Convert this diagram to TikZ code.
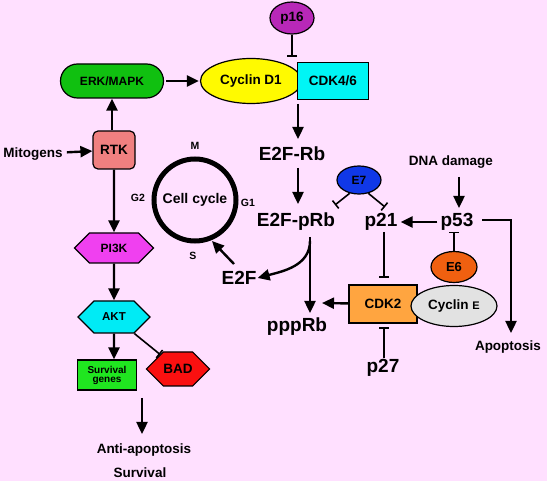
\documentclass[tikz,border=0pt]{standalone}
\usepackage{fontspec}
\setmainfont{Liberation Sans}
\usetikzlibrary{arrows.meta,shapes.geometric,shapes.symbols}
\definecolor{bg}{RGB}{255,224,255}
\definecolor{ergreen}{RGB}{16,192,16}
\definecolor{svgreen}{RGB}{32,230,32}
\definecolor{cyyel}{RGB}{255,250,0}
\definecolor{cdkcyan}{RGB}{0,245,245}
\definecolor{ppurple}{RGB}{184,40,184}
\definecolor{rtkred}{RGB}{240,128,128}
\definecolor{pimag}{RGB}{240,64,240}
\definecolor{aktcyan}{RGB}{0,235,245}
\definecolor{badred}{RGB}{250,16,16}
\definecolor{eblue}{RGB}{16,56,232}
\definecolor{eorange}{RGB}{240,96,16}
\definecolor{cdkorange}{RGB}{255,165,64}
\definecolor{cegray}{RGB}{226,226,226}
\newcommand{\fsz}[1]{\fontsize{#1}{#1}\selectfont}
\tikzset{
  arr/.style={-{Triangle[length=12pt,width=11pt]}, line width=2.4pt},
  inh/.style={-{Bar[width=10pt,line width=1.6pt]}, line width=1.6pt},
  shp/.style={draw, line width=1.2pt, inner sep=0pt, font=\bfseries\fsz{13.5}},
  big/.style={inner sep=1pt, font=\bfseries\fsz{19}},
  mid/.style={inner sep=1pt, font=\bfseries\fsz{13.5}},
  sml/.style={inner sep=1pt, font=\bfseries\fsz{10.5}},
  hexa/.style={shp, signal, signal to=west and east, signal pointer angle=90}
}
\begin{document}
\begin{tikzpicture}[x=1pt,y=-1pt]
\useasboundingbox (0,0) rectangle (547,481);
\fill[bg] (0,0) rectangle (547,481);
% top row
\node[shp, ellipse, fill=ppurple, minimum width=44pt, minimum height=32pt] (p16) at (292,18) {p16};
\node[shp, rounded corners=17pt, fill=ergreen, minimum width=103pt, minimum height=34pt, font=\bfseries\fsz{12}] (erk) at (112,81) {ERK/MAPK};
\node[shp, ellipse, fill=cyyel, minimum width=101pt, minimum height=45pt] (cycd) at (251,81) {Cyclin D1};
\node[shp, fill=cdkcyan, minimum width=71pt, minimum height=37pt] (cdk46) at (333,81) {CDK4/6};
\coordinate (p16end) at (292,57);
\draw[inh] (p16) -- (p16end);
\draw[arr, shorten <=2pt, shorten >=1pt] (erk) -- (cycd);
% left column
\node[mid] (mito) at (33,154) {Mitogens};
\node[shp, rounded corners=5pt, fill=rtkred, minimum width=42pt, minimum height=38pt] (rtk) at (114,150) {RTK};
\node[hexa, fill=pimag, minimum width=79pt, minimum height=30pt, font=\bfseries\fsz{12}] (pi3k) at (114,248) {PI3K};
\node[hexa, fill=aktcyan, minimum width=72pt, minimum height=32pt, font=\bfseries\fsz{11.5}] (akt) at (114,317) {AKT};
\node[shp, fill=svgreen, minimum width=59pt, minimum height=30pt, align=center, font=\bfseries\fsz{10}] (surv) at (107,375) {Survival\\[-1pt]genes};
\node[hexa, fill=badred, minimum width=59pt, minimum height=34pt] (bad) at (178,369) {BAD};
\node[mid] (anti) at (144,450) {Anti-apoptosis};
\node[mid] (survl) at (140,473) {Survival};
\draw[arr, shorten <=3pt] (mito) -- (rtk);
\draw[arr] (rtk.north -| erk) -- (erk.south);
\draw[arr] (rtk) -- (pi3k);
\draw[arr] (pi3k) -- (akt);
\draw[arr] (akt) -- (akt |- surv.north);
\draw[inh] (akt) -- (bad);
\coordinate (astart) at (142,398);
\coordinate (aend) at (142,434);
\draw[arr] (astart) -- (aend);
% cell cycle
\node[circle, draw, line width=5pt, minimum size=82pt, inner sep=0pt, font=\bfseries\fsz{14}] (cc) at (195,200) {Cell cycle};
\node[sml] (mlab) at (195,146) {M};
\node[sml] (g2lab) at (138,198) {G2};
\node[sml] (g1lab) at (248,203) {G1};
\node[sml] (slab) at (193,256) {S};
\node[big] (e2f) at (239,278) {E2F};
\coordinate (e2fs) at (234,264);
\coordinate (e2ft) at (212,241);
\draw[arr] (e2fs) -- (e2ft);
% Rb column
\node[big] (e2frb) at (292,154) {E2F-Rb};
\node[big] (e2fprb) at (296,222) {E2F-pRb};
\node[big] (ppprb) at (297,327) {pppRb};
\coordinate (cdkout) at (298,104);
\coordinate (cdkend) at (298,139);
\draw[arr] (cdkout) -- (cdkend);
\coordinate (rbs) at (298,168);
\coordinate (rbe) at (298,204);
\draw[arr] (rbs) -- (rbe);
\coordinate (prbs) at (310,237);
\coordinate (prbe) at (310,313);
\draw[arr] (prbs) -- (prbe);
\coordinate (curs) at (310,241);
\draw[arr] (curs) to[out=-90,in=15] (e2f.east);
% right part
\node[shp, ellipse, fill=eblue, minimum width=44pt, minimum height=28pt, font=\bfseries\fsz{12}] (e7) at (359,180) {E7};
\node[big] (p21) at (381,222) {p21};
\node[big] (p53) at (457,222) {p53};
\node[mid] (dna) at (451,162) {DNA damage};
\node[mid] (apo) at (508,347) {Apoptosis};
\node[shp, ellipse, fill=eorange, minimum width=46pt, minimum height=31pt, font=\bfseries\fsz{13}] (e6) at (454,267) {E6};
\node[shp, fill=cdkorange, minimum width=68pt, minimum height=38pt] (cdk2) at (383,304) {CDK2};
\node[shp, ellipse, fill=cegray, minimum width=86pt, minimum height=41pt] (cyce) at (454,306) {Cyclin {\fsz{11}E}};
\node[big] (p27) at (383,368) {p27};
\coordinate (e7l) at (335,205);
\coordinate (e7r) at (385,207);
\draw[inh] (e7.235) -- (e7l);
\draw[inh] (e7.305) -- (e7r);
\coordinate (dnas) at (459,177);
\coordinate (dnae) at (459,208);
\draw[arr] (dnas) -- (dnae);
\draw[arr, shorten <=2pt, shorten >=2pt] (p53) -- (p21);
\coordinate (apos) at (482,220);
\coordinate (apoc) at (511,220);
\coordinate (apoe) at (511,333);
\draw[arr] (apos) -- (apoc) -- (apoe);
\draw[inh] (e6) -- (e6.north |- p53.south);
\coordinate (p21e) at (384,278);
\draw[inh] (p21.south -| p21e) -- (p21e);
\coordinate (cdk2e) at (322,303);
\draw[arr] (cdk2) -- (cdk2e);
\coordinate (p27e) at (384,327);
\draw[inh] (p27.north -| p27e) -- (p27e);
\end{tikzpicture}
\end{document}
